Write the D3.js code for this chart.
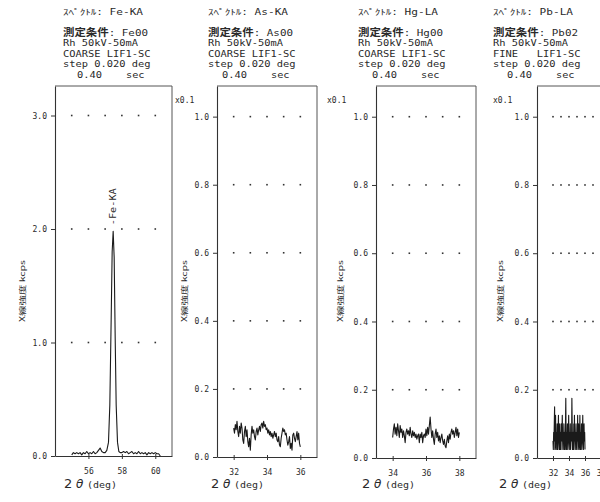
<!DOCTYPE html>
<html><head><meta charset="utf-8">
<script src="https://cdn.jsdelivr.net/npm/d3@7"></script>
<style>body{margin:0;background:#fff}svg text{white-space:pre}</style>
</head><body>
<svg id="c" width="600" height="502"></svg>
<script>
// ---------- data ----------
const panelLines = ["Fe-KA", "As-KA", "Hg-LA", "Pb-LA"];
const panelSamples = ["Fe00", "As00", "Hg00", "Pb02"];
const panelSource = ["Rh 50kV-50mA", "Rh 50kV-50mA", "Rh 50kV-50mA", "Rh 50kV-50mA"];
const panelOptics = ["COARSE LIF1-SC", "COARSE LIF1-SC", "COARSE LIF1-SC", "FINE   LIF1-SC"];
const panelStep = ["step 0.020 deg", "step 0.020 deg", "step 0.020 deg", "step 0.020 deg"];
const panelTime = ["0.40", "0.40", "0.40", "0.40"];
const panelMultiplier = ["", "x0.1", "x0.1", "x0.1"];

const xTickValues = [[56, 58, 60], [32, 34, 36], [34, 36, 38], [32, 34, 36, 38]];
const yTickValues = [[0, 1, 2, 3], [0, 0.2, 0.4, 0.6, 0.8, 1.0], [0, 0.2, 0.4, 0.6, 0.8, 1.0], [0, 0.2, 0.4, 0.6, 0.8, 1.0]];
const gridXValues = [[55, 56, 57, 58, 59, 60], [32, 33, 34, 35, 36], [34, 35, 36, 37, 38], [32, 33, 34, 35, 36, 37, 38]];
const gridYValues = [[1, 2, 3], [0.2, 0.4, 0.6, 0.8, 1.0], [0.2, 0.4, 0.6, 0.8, 1.0], [0.2, 0.4, 0.6, 0.8, 1.0]];

// Fe-KA spectrum (2theta deg, kcps)
const feTheta = [55.0,55.1,55.2,55.3,55.4,55.5,55.6,55.7,55.8,55.9,56.0,56.1,56.2,56.3,56.4,56.5,56.6,56.7,56.8,56.9,
  57.0,57.1,57.2,57.28,57.36,57.42,57.48,57.54,57.6,57.66,57.74,57.82,57.9,
  58.0,58.1,58.2,58.3,58.4,58.5,58.6,58.7,58.8,58.9,59.0,59.1,59.2,59.3,59.4,59.5,59.6,59.7,59.8,59.9,60.0,60.1,60.2,60.3];
const feKcps = [0.01,0.03,0.02,0.03,0.02,0.03,0.01,0.03,0.02,0.04,0.02,0.03,0.02,0.04,0.02,0.03,0.05,0.07,0.04,0.03,
  0.03,0.05,0.12,0.45,1.20,1.80,1.98,1.75,1.05,0.45,0.12,0.04,0.03,
  0.03,0.04,0.03,0.04,0.02,0.03,0.04,0.02,0.03,0.02,0.04,0.02,0.03,0.02,0.03,0.01,0.03,0.02,0.03,0.02,0.03,0.02,0.02,0.0];

// As-KA spectrum, scan from 32.00 deg, plotted every 0.05 deg (x0.1 kcps)
const asStart = 32.0, asStep = 0.05;
const asKcps = [0.085,0.07,0.095,0.08,0.105,0.075,0.06,0.09,0.07,0.1,0.085,0.05,0.04,0.075,0.09,0.06,0.08,0.045,0.03,0.055,
  0.02,0.065,0.09,0.07,0.08,0.06,0.05,0.075,0.085,0.065,0.08,0.09,0.075,0.095,0.1,0.085,0.105,0.09,0.095,0.08,
  0.085,0.07,0.08,0.065,0.075,0.06,0.07,0.055,0.065,0.075,0.06,0.07,0.05,0.045,0.06,0.035,0.03,0.055,0.07,0.085,
  0.075,0.08,0.065,0.07,0.05,0.035,0.045,0.06,0.025,0.04,0.02,0.065,0.07,0.055,0.045,0.06,0.075,0.05,0.07,0.04,0.03];

// Hg-LA spectrum, scan from 34.00 deg, every 0.05 deg (x0.1 kcps)
const hgStart = 34.0, hgStep = 0.05;
const hgKcps = [0.06,0.085,0.1,0.07,0.09,0.065,0.1,0.08,0.06,0.095,0.075,0.085,0.06,0.08,0.065,0.045,0.075,0.085,0.07,0.08,
  0.065,0.09,0.07,0.06,0.08,0.065,0.075,0.06,0.07,0.055,0.065,0.07,0.045,0.07,0.06,0.075,0.045,0.065,0.07,0.06,
  0.085,0.065,0.09,0.07,0.095,0.12,0.085,0.06,0.08,0.055,0.04,0.07,0.085,0.06,0.075,0.05,0.065,0.045,0.06,0.07,
  0.05,0.04,0.055,0.035,0.03,0.05,0.065,0.045,0.07,0.055,0.075,0.085,0.07,0.08,0.06,0.075,0.09,0.065,0.085,0.06,0.075];

// Pb-LA spectrum, scan from 32.00 deg, every 0.04 deg (x0.1 kcps)
const pbStart = 32.0, pbStep = 0.04;
const pbKcps = [0.05,0.025,0.075,0.05,0.1,0.15,0.025,0.05,0.125,0.05,0.025,0.075,0.05,0.1,0.025,0.05,0.075,0.125,0.05,0.025,
  0.05,0.1,0.025,0.075,0.05,0.025,0.1,0.05,0.075,0.125,0.05,0.025,0.075,0.05,0.1,0.025,0.05,0.075,0.025,0.1,
  0.175,0.05,0.025,0.075,0.05,0.1,0.025,0.05,0.075,0.125,0.05,0.025,0.075,0.05,0.1,0.025,0.05,0.075,0.05,0.175,
  0.1,0.025,0.05,0.075,0.025,0.1,0.05,0.125,0.05,0.025,0.075,0.05,0.1,0.025,0.05,0.075,0.05,0.125,0.025,0.05,
  0.1,0.075,0.025,0.05,0.125,0.05,0.025,0.075,0.05,0.1,0.025,0.05,0.075,0.125,0.05,0.025,0.075,0.1,0.05,0.075,0.025];

const series = [
  feTheta.map((t, i) => [t, feKcps[i]]),
  asKcps.map((v, i) => [asStart + i * asStep, v]),
  hgKcps.map((v, i) => [hgStart + i * hgStep, v]),
  pbKcps.map((v, i) => [pbStart + i * pbStep, v])
];

// ---------- layout ----------
const TOP = 86;
const layout = [
  {x0: 54, x1: 61, left: 55, right: 172, yMax: 3.26, bottom: 456, headX: 63, titleX: 64, yLabX: 22, multX: 0},
  {x0: 31, x1: 37, left: 217, right: 317, yMax: 1.09, bottom: 457, headX: 208, titleX: 211, yLabX: 183.5, multX: 175},
  {x0: 33, x1: 39, left: 376, right: 476, yMax: 1.09, bottom: 458, headX: 358, titleX: 362, yLabX: 340, multX: 327},
  {x0: 30, x1: 44, left: 537, right: 649, yMax: 1.09, bottom: 458, headX: 493, titleX: 499, yLabX: 500, multX: 493}
];

const MONO = "'DejaVu Sans Mono','Noto Sans CJK JP',monospace";
const CJK = "'Noto Sans CJK JP','DejaVu Sans Mono',sans-serif";
const INK = "#2a2a2a";

const svg = d3.select("#c");
svg.append("rect").attr("width", 600).attr("height", 502).attr("fill", "#fff");

layout.forEach((L, p) => {
  const g = svg.append("g");
  const x = d3.scaleLinear().domain([L.x0, L.x1]).range([L.left, L.right]);
  const y = d3.scaleLinear().domain([0, L.yMax]).range([L.bottom, TOP]);

  // header block
  const h = g.append("g").attr("fill", INK).attr("font-family", MONO);
  h.append("text").attr("x", L.headX).attr("y", 15).attr("font-size", 8)
    .attr("textLength", 80).attr("lengthAdjust", "spacingAndGlyphs")
    .text("ｽﾍﾟｸﾄﾙ: " + panelLines[p]);
  const t2 = h.append("text").attr("x", L.headX).attr("y", 36).attr("font-size", 9.5)
    .attr("textLength", 85).attr("lengthAdjust", "spacingAndGlyphs");
  t2.append("tspan").attr("font-family", CJK).attr("font-weight", 700).attr("font-size", 10).text("測定条件");
  t2.append("tspan").text(": " + panelSamples[p]);
  const small = [[panelSource[p], 46], [panelOptics[p], 56.5], [panelStep[p], 67]];
  small.forEach(([s, yy]) => {
    h.append("text").attr("x", L.headX).attr("y", yy).attr("font-size", 8)
      .attr("textLength", s.length * 6.25).attr("lengthAdjust", "spacingAndGlyphs").text(s);
  });
  h.append("text").attr("x", L.headX + 14).attr("y", 77.5).attr("font-size", 8)
    .attr("textLength", 25).attr("lengthAdjust", "spacingAndGlyphs").text(panelTime[p]);
  h.append("text").attr("x", L.headX + 63).attr("y", 77.5).attr("font-size", 8)
    .attr("textLength", 18.5).attr("lengthAdjust", "spacingAndGlyphs").text("sec");

  if (panelMultiplier[p]) {
    g.append("text").attr("x", L.multX).attr("y", 103).attr("font-size", 8).attr("font-family", MONO)
      .attr("fill", INK).text(panelMultiplier[p]);
  }

  // frame (top & right)
  g.append("path")
    .attr("d", `M${L.left},${TOP}H${L.right}V${L.bottom}`)
    .attr("fill", "none").attr("stroke", "#555").attr("stroke-width", 1);

  // axes
  const ya = g.append("g").attr("transform", `translate(${L.left},0)`)
    .call(d3.axisLeft(y).tickValues(yTickValues[p]).tickFormat(d3.format(".1f")).tickSize(4).tickSizeOuter(0).tickPadding(4));
  const xa = g.append("g").attr("transform", `translate(0,${L.bottom})`)
    .call(d3.axisBottom(x).tickValues(xTickValues[p]).tickFormat(d3.format("d")).tickSize(3).tickSizeOuter(0).tickPadding(9));
  [ya, xa].forEach(a => {
    a.select(".domain").attr("stroke", "#333").attr("stroke-width", 1.1);
    a.selectAll(".tick line").attr("stroke", "#333");
    a.selectAll(".tick text").attr("fill", INK).attr("font-family", MONO).attr("font-size", 8);
  });
  xa.selectAll(".tick line").attr("y1", -2);

  // dotted grid
  const pts = [];
  gridYValues[p].forEach(v => gridXValues[p].forEach(u => pts.push([u, v])));
  g.append("g").selectAll("rect").data(pts).join("rect")
    .attr("x", d => x(d[0]) - 0.8).attr("y", d => y(d[1]) - 0.8)
    .attr("width", 1.6).attr("height", 1.6).attr("fill", "#333");

  // spectrum
  g.append("path").datum(series[p])
    .attr("d", d3.line().x(d => x(d[0])).y(d => y(d[1])))
    .attr("fill", "none").attr("stroke", "#1a1a1a").attr("stroke-width", 1.1)
    .attr("stroke-linejoin", "round");

  // y title
  g.append("text").attr("transform", `translate(${L.yLabX},291) rotate(-90)`)
    .attr("text-anchor", "middle").attr("dominant-baseline", "central")
    .attr("font-family", CJK).attr("font-size", 7).attr("fill", INK)
    .attr("textLength", 62).attr("lengthAdjust", "spacingAndGlyphs")
    .text("X線強度 kcps");

  // x title
  const xt = g.append("text").attr("y", 488).attr("fill", INK);
  xt.append("tspan").attr("x", L.titleX).attr("font-family", "'DejaVu Sans',sans-serif").attr("font-size", 13).text("2");
  xt.append("tspan").attr("x", L.titleX + 12).attr("font-family", "'DejaVu Sans',sans-serif").attr("font-style", "italic").attr("font-size", 12).text("θ");
  xt.append("tspan").attr("x", L.titleX + 23).attr("font-family", MONO).attr("font-size", 8.5)
    .attr("textLength", 30).attr("lengthAdjust", "spacingAndGlyphs").text("(deg)");
});

// peak annotation on Fe-KA panel
{
  const L = layout[0];
  const x = d3.scaleLinear().domain([L.x0, L.x1]).range([L.left, L.right]);
  const y = d3.scaleLinear().domain([0, L.yMax]).range([L.bottom, TOP]);
  const peakIdx = feKcps.indexOf(d3.max(feKcps));
  svg.append("text")
    .attr("transform", `translate(${x(feTheta[peakIdx])},${y(feKcps[peakIdx]) - 6}) rotate(-90)`)
    .attr("dominant-baseline", "central").attr("font-family", MONO).attr("font-size", 8)
    .attr("fill", INK).attr("textLength", 37).attr("lengthAdjust", "spacingAndGlyphs")
    .text("-" + panelLines[0]);
}
</script>
</body></html>
